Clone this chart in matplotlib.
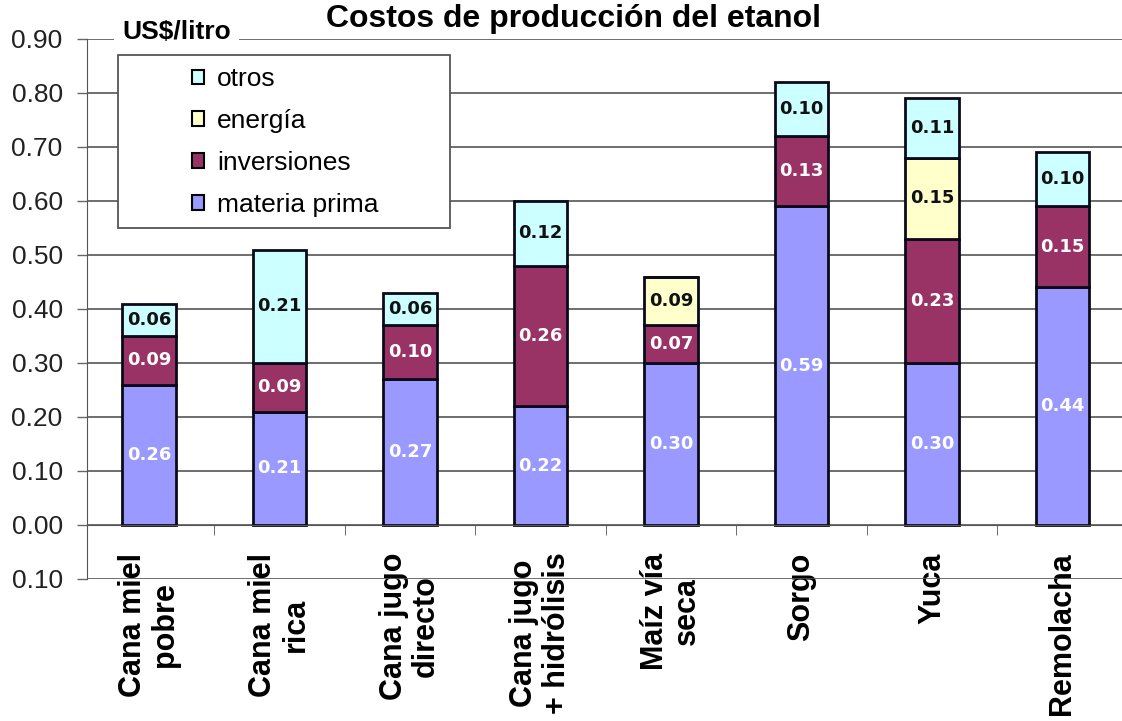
import numpy as np
import matplotlib
matplotlib.use('Agg')
import matplotlib.pyplot as plt
import matplotlib.transforms as mtransforms
from matplotlib.patches import Patch, Rectangle
from matplotlib.ticker import FuncFormatter

plt.rcParams['font.family'] = ['Liberation Sans', 'DejaVu Sans']

# datos (US$/litro)
categorias = ['Cana miel\npobre', 'Cana miel\nrica', 'Cana jugo\ndirecto',
              'Cana jugo\n+ hidrólisis', 'Maíz vía\nseca', 'Sorgo', 'Yuca', 'Remolacha']
materia_prima = [0.26, 0.21, 0.27, 0.22, 0.30, 0.59, 0.30, 0.44]
inversiones = [0.09, 0.09, 0.10, 0.26, 0.07, 0.13, 0.23, 0.15]
energia = [0.00, 0.00, 0.00, 0.00, 0.09, 0.00, 0.15, 0.00]
otros = [0.06, 0.21, 0.06, 0.12, 0.00, 0.10, 0.11, 0.10]

series = [('materia prima', materia_prima, '#9999FF', 'white'),
          ('inversiones', inversiones, '#993366', 'white'),
          ('energía', energia, '#FFFFCC', '#111111'),
          ('otros', otros, '#CCFFFF', '#111111')]

fig = plt.figure(figsize=(11.22, 7.21), dpi=100)
ax = fig.add_axes([0.0775, 0.197, 0.9225, 0.749])

x = np.arange(len(categorias))
base = np.zeros(len(categorias))
for nombre, vals, color, tcolor in series:
    vals = np.array(vals)
    bars = ax.bar(x, vals, 0.41, bottom=base, color=color, edgecolor='#0a0a1a',
                  linewidth=2, zorder=2)
    for rect, v in zip(bars, vals):
        if v > 0:
            ax.text(rect.get_x() + rect.get_width() / 2, rect.get_y() + v / 2,
                    f'{v:.2f}', ha='center', va='center', color=tcolor,
                    fontsize=13, fontweight='bold', family='DejaVu Sans', zorder=3)
    base = base + vals

ax.set_xlim(-0.475, 7.456)
ax.set_ylim(-0.1, 0.9)

# eje y
ax.set_yticks(np.arange(-0.1, 0.91, 0.1))
ax.yaxis.set_major_formatter(FuncFormatter(lambda v, p: f'{abs(v):.2f}'))
ax.tick_params(axis='y', direction='out', length=7.5, width=1, color='#666666',
               labelsize=19, labelcolor='#222222', pad=10)
ax.yaxis.grid(True, color='#555555', linewidth=1.2)
ax.set_axisbelow(True)

# eje x en 0
ax.spines['bottom'].set_position(('data', 0))
ax.spines['bottom'].set_color('#555555')
ax.spines['left'].set_color('#555555')
ax.spines['top'].set_visible(False)
ax.spines['right'].set_visible(False)
ax.set_xticks(x, categorias, rotation=90, fontsize=22, fontweight='bold',
              linespacing=1.1, multialignment='center')
ax.set_xticks(x[1:] - 0.5, minor=True)
ax.tick_params(axis='x', which='major', length=0, pad=20)
ax.tick_params(axis='x', which='minor', direction='out', length=7, color='#555555')

# unidad
trans = mtransforms.blended_transform_factory(ax.transAxes, ax.transData)
ax.text(0.034, 0.9, 'US$/litro', transform=trans, ha='left', va='baseline',
        fontsize=19, fontweight='bold', zorder=5,
        bbox=dict(boxstyle='square,pad=0.3', fc='white', ec='none'))

# leyenda
ax.add_patch(Rectangle((0.030, 0.650), 0.321, 0.320, transform=ax.transAxes,
                       fc='white', ec='#555555', lw=1.3, zorder=4))
handles = [Patch(facecolor=c, edgecolor='black', linewidth=1.5, label=n)
           for n, v, c, t in series[::-1]]
leg = ax.legend(handles=handles, loc='upper left', bbox_to_anchor=(0.1014, 0.948),
                frameon=False, fontsize=19, handlelength=0.45, handleheight=0.45,
                handletextpad=0.5, labelspacing=0.68, borderpad=0, borderaxespad=0)
leg.set_zorder(6)

fig.text(573 / 1122, 1 - 27 / 721, 'Costos de producción del etanol', ha='center',
         va='baseline', fontsize=23, fontweight='bold')

fig.savefig('out.png', dpi=100)
